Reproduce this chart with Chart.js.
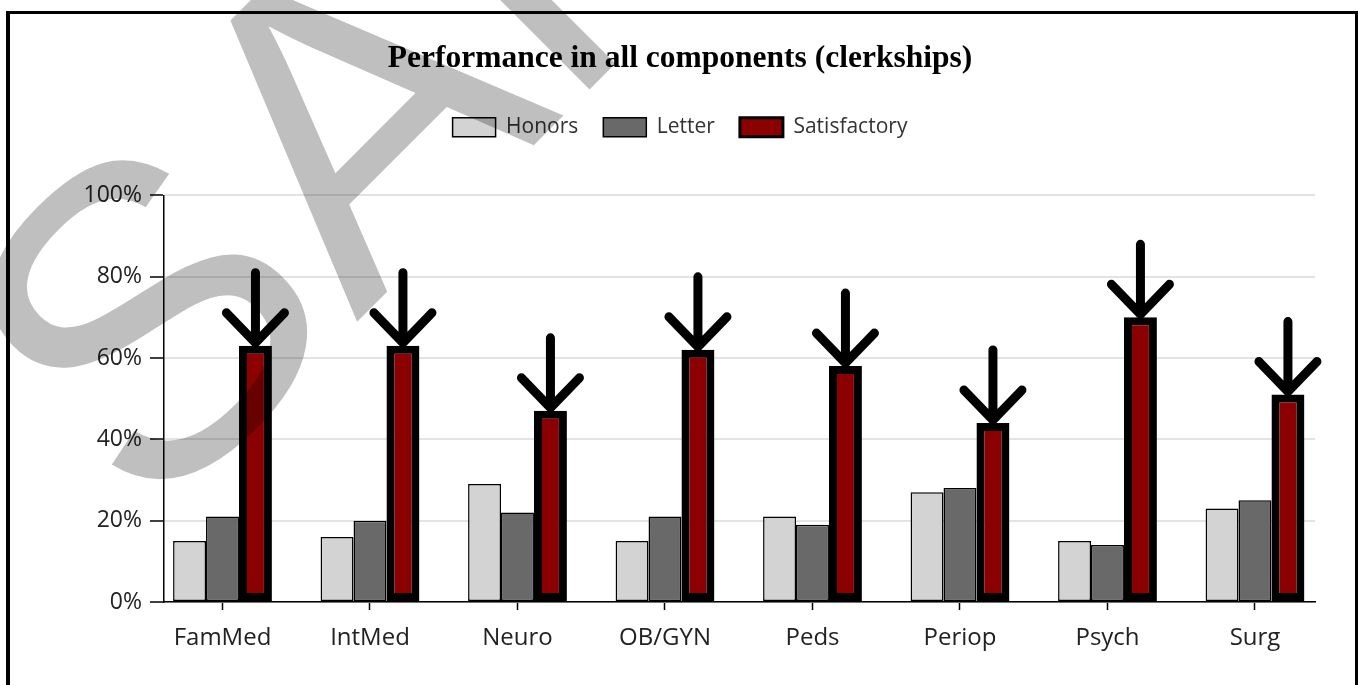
<!DOCTYPE html>
<html><head><meta charset="utf-8">
<script src="https://cdn.jsdelivr.net/npm/chart.js@4.4.1/dist/chart.umd.min.js"></script>
<style>
html,body{margin:0;padding:0;background:#fff;overflow:hidden;}
#frame{position:absolute;left:6px;top:11px;width:1352px;height:720px;border-left:4px solid #000;border-top:3px solid #000;border-right:3px solid #000;box-sizing:border-box;}
#wrap{position:absolute;left:0;top:0;width:1358px;height:685px;}
</style></head><body>
<div id="frame"></div>
<div id="wrap"><canvas id="c" width="1358" height="685"></canvas></div>
<script>
const categories = ['FamMed','IntMed','Neuro','OB/GYN','Peds','Periop','Psych','Surg'];
const honors = [15,16,29,15,21,27,15,23];
const letter = [21,20,22,21,19,28,14,25];
const satisfactory = [63,63,47,62,58,44,70,51];
const seriesNames = ['Honors','Letter','Satisfactory'];
const titleText = 'Performance in all components (clerkships)';
const watermarkText = 'SAMPLE';

const legendBorders = [1.5, 1.5, 3];

const arrowPlugin = {
  id: 'arrows',
  afterDatasetsDraw(chart) {
    const meta = chart.getDatasetMeta(2);
    const ctx = chart.ctx;
    ctx.save();
    ctx.strokeStyle = '#000';
    ctx.lineWidth = 9;
    ctx.lineCap = 'round';
    ctx.lineJoin = 'round';
    meta.data.forEach(el => {
      const x = el.x, t = el.y;
      ctx.beginPath();
      ctx.moveTo(x, t - 73);
      ctx.lineTo(x, t - 3);
      ctx.moveTo(x - 29, t - 33);
      ctx.lineTo(x, t - 3);
      ctx.lineTo(x + 29, t - 33);
      ctx.stroke();
    });
    ctx.restore();
  }
};

const watermarkPlugin = {
  id: 'watermark',
  afterDraw(chart) {
    const ctx = chart.ctx;
    ctx.save();
    ctx.translate(149, 530);
    ctx.rotate(-45 * Math.PI / 180);
    ctx.font = '440px "Liberation Sans"';
    ctx.textBaseline = 'alphabetic';
    ctx.textAlign = 'left';
    ctx.fillStyle = 'rgba(0,0,0,0.25)';
    ctx.fillText(watermarkText, 0, 0);
    ctx.restore();
  }
};

const toPoints = arr => arr.map((v, i) => ({x: i, y: v}));

new Chart(document.getElementById('c'), {
  type: 'bar',
  data: {
    datasets: [
      {label: seriesNames[0], data: toPoints(honors), backgroundColor: '#d3d3d3', borderColor: '#000', borderWidth: 1.5, borderSkipped: false},
      {label: seriesNames[1], data: toPoints(letter), backgroundColor: '#696969', borderColor: '#000', borderWidth: 1.5, borderSkipped: false},
      {label: seriesNames[2], data: toPoints(satisfactory), backgroundColor: '#8b0000', borderColor: '#000', borderWidth: 8, borderSkipped: false}
    ]
  },
  options: {
    responsive: false,
    animation: false,
    devicePixelRatio: 1,
    datasets: {bar: {categoryPercentage: 0.67, barPercentage: 1}},
    layout: {padding: {left: 45, right: 43, top: 0, bottom: 0}},
    plugins: {
      title: {display: true, text: titleText, color: '#000',
        font: {family: 'Liberation Serif', size: 31.5, weight: 'bold'},
        padding: {top: 40, bottom: 14}},
      subtitle: {display: true, text: ' ', weight: 500, font: {size: 10}, padding: {top: 0, bottom: 35.5}},
      legend: {display: true, position: 'top',
        labels: {boxWidth: 43, boxHeight: 19, padding: 25, color: '#333',
          font: {family: 'Open Sans', size: 21},
          generateLabels(chart) {
            const items = Chart.defaults.plugins.legend.labels.generateLabels(chart);
            items.forEach((it, i) => { it.lineWidth = legendBorders[i]; it.strokeStyle = '#000'; });
            return items;
          }}},
      tooltip: {enabled: false}
    },
    scales: {
      x: {type: 'linear', min: -0.3966, max: 7.4068, offset: false,
        grid: {offset: false, drawOnChartArea: false, drawTicks: true, tickLength: 8, tickColor: '#000', tickWidth: 1.5},
        border: {display: true, color: '#000', width: 1.5},
        ticks: {autoSkip: false, maxRotation: 0, minRotation: 0, padding: 14, color: '#222',
          font: {family: 'Open Sans', size: 24},
          callback: v => (categories[v] !== undefined ? categories[v] : '')},
        afterBuildTicks: s => { s.ticks = categories.map((_, i) => ({value: i})); },
        afterFit: s => { s.height = 83; }},
      y: {min: 0, max: 100,
        grid: {color: '#e3e3e3', lineWidth: 2, tickLength: 14, tickColor: '#000', tickWidth: 1.5},
        border: {display: true, color: '#000', width: 1.5},
        ticks: {stepSize: 20, padding: 8, color: '#222', font: {family: 'Open Sans', size: 23},
          callback: v => v + '%'},
        afterFit: s => { s.width = 119; }}
    }
  },
  plugins: [arrowPlugin, watermarkPlugin]
});
</script>
</body></html>
